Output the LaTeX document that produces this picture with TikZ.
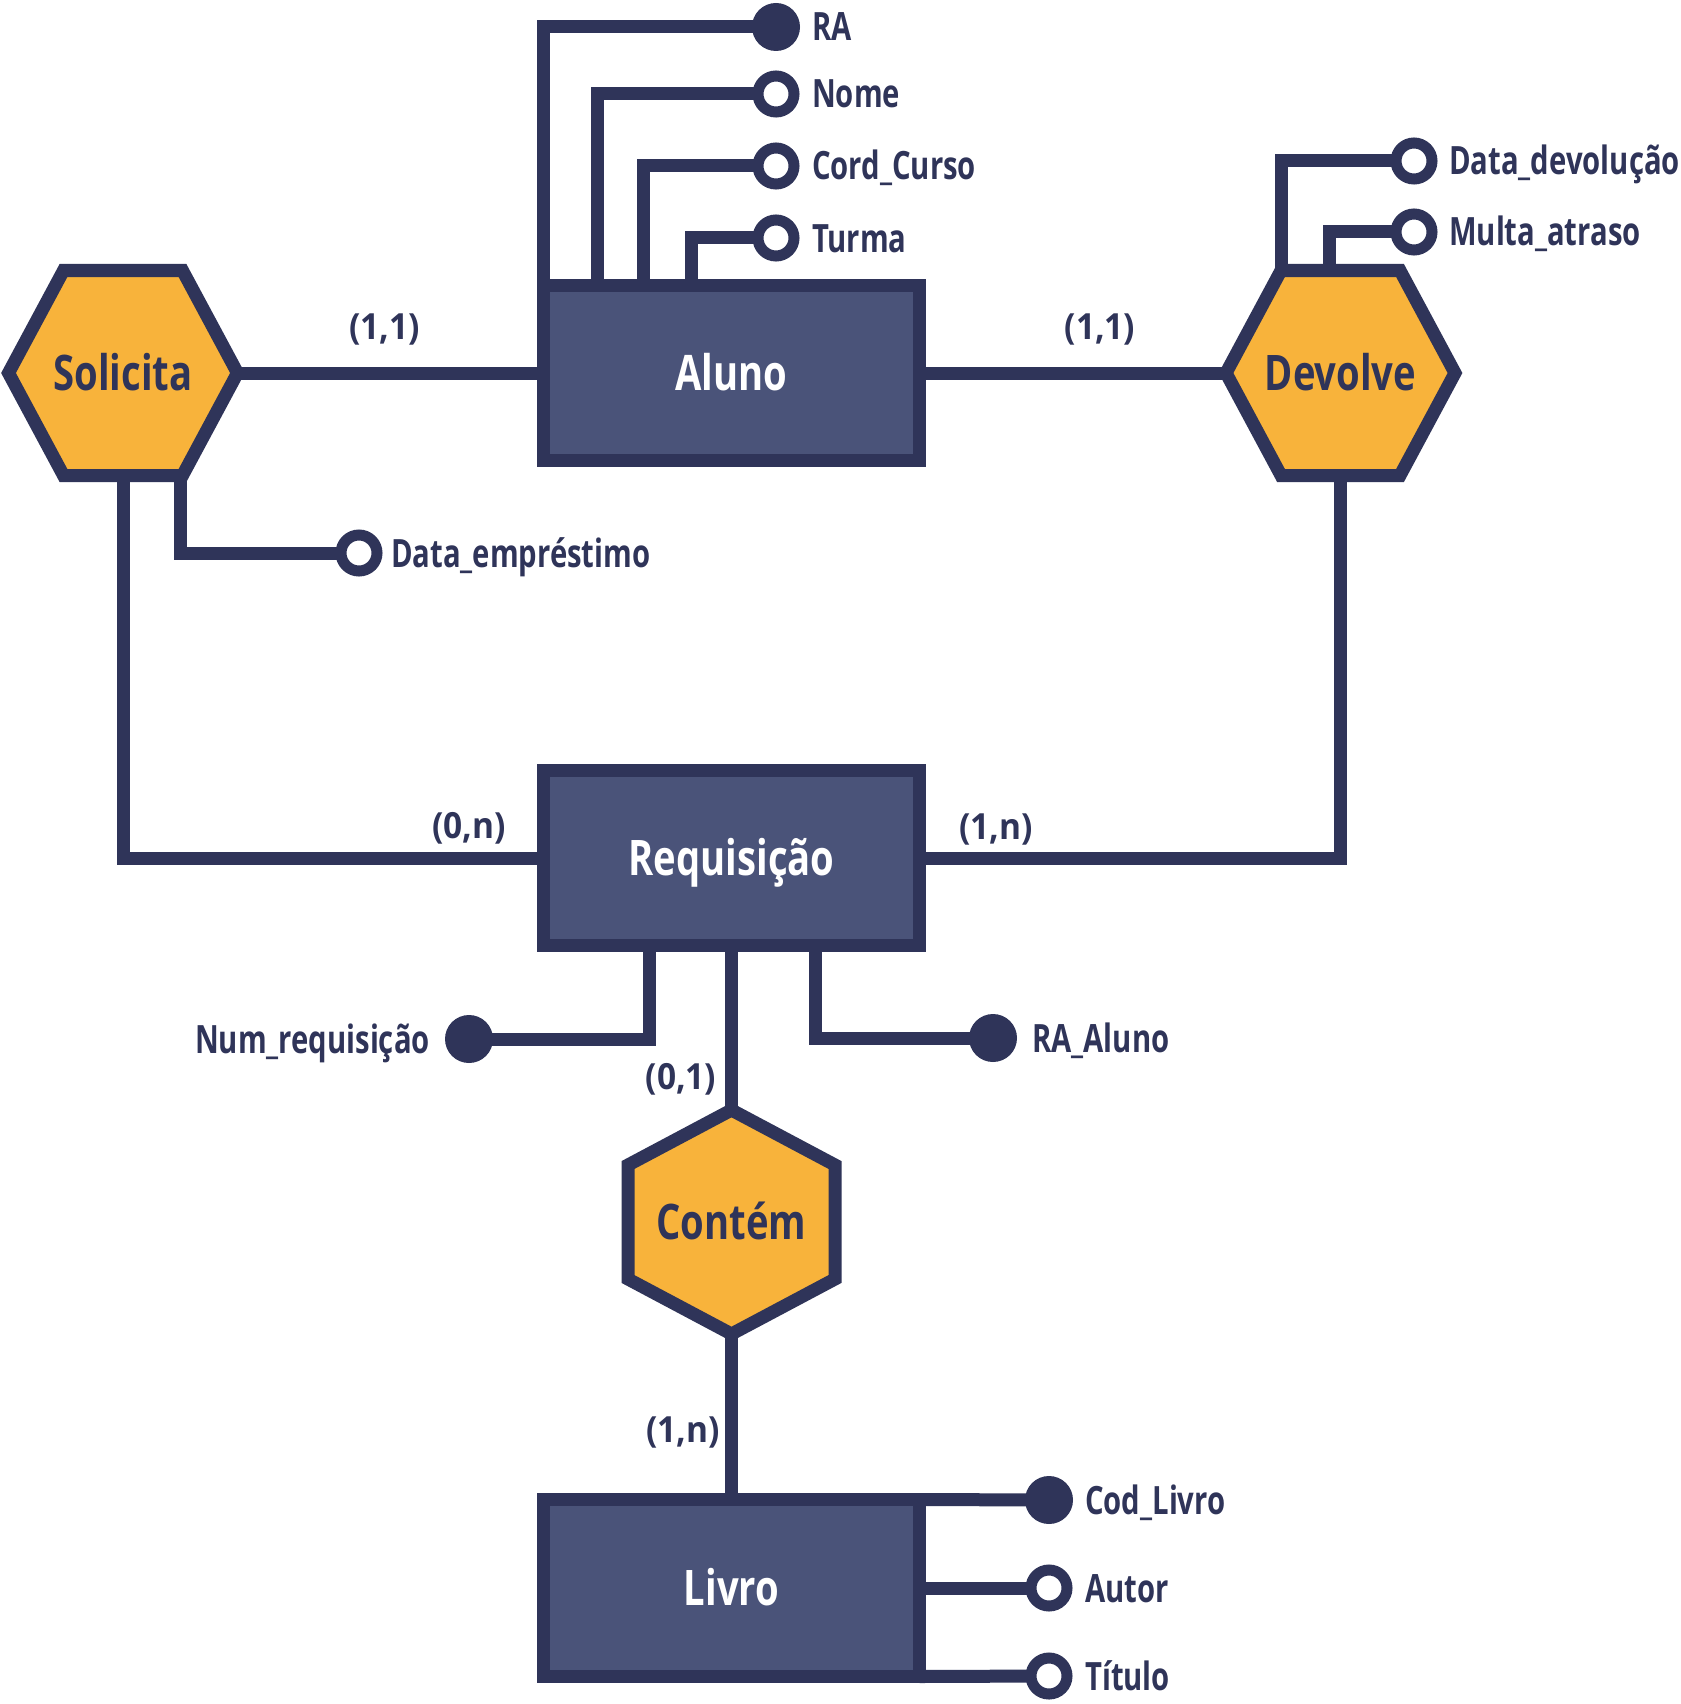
\documentclass[tikz,border=0pt]{standalone}
\usepackage{fontspec}
\setmainfont{Open Sans}[FakeStretch=0.75]
\newfontfamily\namefont{Open Sans}[FakeStretch=0.78]
\newfontfamily\cardfont{Open Sans}[FakeStretch=0.93]
\usetikzlibrary{calc}
\pgfdeclarelayer{bottom}
\pgfdeclarelayer{background}
\pgfsetlayers{bottom,background,main}
\definecolor{navy}{HTML}{2F3459}
\definecolor{boxfill}{HTML}{4A5379}
\definecolor{hexfill}{HTML}{F8B33B}
\tikzset{
  conn/.style={draw=navy, line width=13pt},
  entity/.style={draw=navy, fill=boxfill, line width=13pt, minimum width=376pt, minimum height=175pt,
    inner sep=0pt, outer sep=0pt, text=white, font=\namefont\bfseries\fontsize{49}{49}\selectfont,
    text height=35pt, text depth=0pt},
  hexa/.style={draw=navy, fill=hexfill, line width=13pt},
  reltext/.style={text=navy, font=\namefont\bfseries\fontsize{49}{49}\selectfont, inner sep=0pt,
    text height=35pt, text depth=0pt},
  keyattr/.style={circle, fill=navy, minimum size=48pt, inner sep=0pt},
  attr/.style={circle, draw=navy, fill=white, line width=11pt, minimum size=36pt, inner sep=0pt},
  attrlabel/.style={text=navy, font=\bfseries\fontsize{39}{39}\selectfont, inner sep=0pt},
  card/.style={text=navy, font=\cardfont\bfseries\fontsize{36}{36}\selectfont, inner sep=0pt}
}
\begin{document}
\begin{tikzpicture}[x=1pt,y=-1pt]
\begin{pgfonlayer}{bottom}
\useasboundingbox[fill=white] (0,0) rectangle (1680,1704);
\end{pgfonlayer}

% entities
\node[entity] (aluno) at (731.5,373) {Aluno};
\node[entity] (req) at (731.5,858) {Requisição};
\node[entity, minimum height=177pt] (livro) at (731.5,1588) {Livro};

% relationships
\draw[hexa] (8.5,373) coordinate (solL) -- ++(55,-102.5) coordinate (solTL) -- ++(119,0) coordinate (solTR)
  -- ++(55,102.5) coordinate (solR) -- ++(-55,102.5) coordinate (solBR) -- ++(-119,0) coordinate (solBL) -- cycle;
\node[reltext] (solicita) at (123,373) {Solicita};

\draw[hexa] (1226,373) coordinate (devL) -- ++(55,-102.5) coordinate (devTL) -- ++(119,0) coordinate (devTR)
  -- ++(55,102.5) coordinate (devR) -- ++(-55,102.5) coordinate (devBR) -- ++(-119,0) coordinate (devBL) -- cycle;
\node[reltext] (devolve) at (1340.5,373) {Devolve};

\draw[hexa] (731.5,1110) coordinate (conT) -- ++(103.5,55) coordinate (conTR) -- ++(0,114) coordinate (conBR)
  -- ++(-103.5,55) coordinate (conB) -- ++(-103.5,-55) coordinate (conBL) -- ++(0,-114) coordinate (conTL) -- cycle;
\node[reltext] (contem) at (731.5,1222) {Contém};

% attributes of Aluno
\node[keyattr] (ra) at (776,27) {};
\node[attr] (nome) at (776,94) {};
\node[attr] (curso) at (776,166) {};
\node[attr] (turma) at (776,238) {};
\node[attrlabel, anchor=base west] (raL) at (812,41) {RA};
\node[attrlabel, anchor=base west] (nomeL) at (812,108) {Nome};
\node[attrlabel, anchor=base west] (cursoL) at (812,180) {Cord\_Curso};
\node[attrlabel, anchor=base west] (turmaL) at (812,252) {Turma};

% attributes of Devolve
\node[attr] (datadev) at (1414,161) {};
\node[attr] (multa) at (1414,232) {};
\node[attrlabel, anchor=base west] (datadevL) at (1449,175) {Data\_devolução};
\node[attrlabel, anchor=base west] (multaL) at (1449,246) {Multa\_atraso};

% attribute of Solicita
\node[attr] (dataemp) at (359,553) {};
\node[attrlabel, anchor=base west] (dataempL) at (391,567) {Data\_empréstimo};

% attributes of Requisição
\node[keyattr] (numreq) at (469,1039) {};
\node[keyattr] (raaluno) at (993,1038) {};
\node[attrlabel, anchor=base east] (numreqL) at (430,1053) {Num\_requisição};
\node[attrlabel, anchor=base west] (raalunoL) at (1032,1052) {RA\_Aluno};

% attributes of Livro
\node[keyattr] (codlivro) at (1049,1500) {};
\node[attr] (autor) at (1049,1588) {};
\node[attr] (titulo) at (1049,1676) {};
\node[attrlabel, anchor=base west] (codlivroL) at (1085,1514) {Cod\_Livro};
\node[attrlabel, anchor=base west] (autorL) at (1085,1602) {Autor};
\node[attrlabel, anchor=base west] (tituloL) at (1085,1690) {Título};

% cardinalities
\node[card] (c1) at (384.5,329.5) {(1,1)};
\node[card] (c2) at (1100,329.5) {(1,1)};
\node[card] (c3) at (469,828) {(0,n)};
\node[card] (c4) at (996,829) {(1,n)};
\node[card] (c5) at (681,1079) {(0,1)};
\node[card] (c6) at (683,1432) {(1,n)};

% connectors
\begin{pgfonlayer}{background}
\draw[conn] (aluno.north west) |- (ra.center);
\draw[conn] ($(aluno.north west)+(53.5,0)$) |- (nome.center);
\draw[conn] ($(aluno.north west)+(99.5,0)$) |- (curso.center);
\draw[conn] ($(aluno.north west)+(147.5,0)$) |- (turma.center);
\draw[conn] (solR) -- (aluno.west);
\draw[conn] (aluno.east) -- (devL);
\draw[conn] (devTL) |- (datadev.center);
\draw[conn] ($(devTL)+(48,0)$) |- (multa.center);
\draw[conn] ($(solBL)!0.5!(solBR)$) |- (req.west);
\draw[conn] ($(solBR)+(-2,0)$) |- (dataemp.center);
\draw[conn] ($(devBL)!0.5!(devBR)$) |- (req.east);
\draw[conn] ($(req.south)+(-82.5,0)$) |- (numreq.center);
\draw[conn] ($(req.south)+(83.5,0)$) |- (raaluno.center);
\draw[conn] (req.south) -- (conT);
\draw[conn] (conB) -- (livro.north);
\draw[conn] (livro.north east) -- (codlivro.center);
\draw[conn] (livro.east) -- (autor.center);
\draw[conn] (livro.south east) -- (titulo.center);
\end{pgfonlayer}
\end{tikzpicture}
\end{document}
